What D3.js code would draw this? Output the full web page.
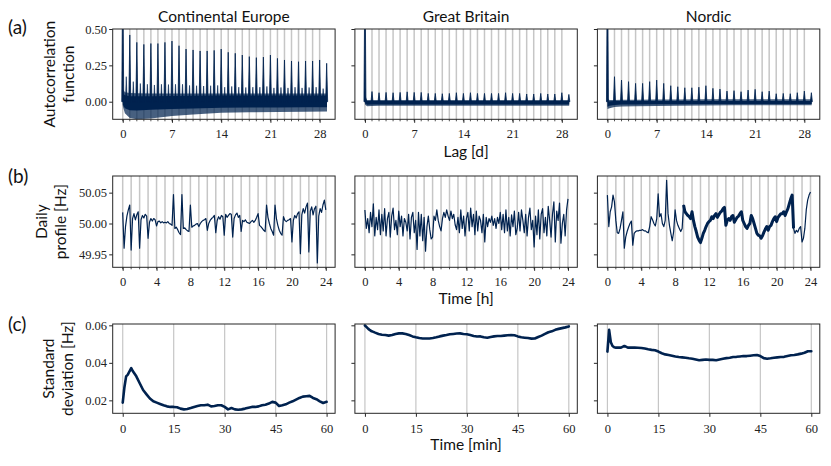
<!DOCTYPE html>
<meta charset="utf-8">
<script src="https://cdn.jsdelivr.net/npm/d3@7"></script>
<style>

body {
  margin: 0;
  background: #fff;
}

svg {
  display: block;
}

.title, .label, .letter {
  font-family: Lato, "Open Sans", sans-serif;
  fill: #111;
}

.tick line {
  stroke: #262626;
}

.frame {
  fill: none;
  stroke: #262626;
  stroke-width: 1;
}

.grid line {
  stroke: #c6c6c6;
  stroke-width: 1.5;
}

</style>
<body>
<div class="chart"></div>
<script>

// ---- text ----
var regions = ["Continental Europe", "Great Britain", "Nordic"];
var rowLetters = ["(a)", "(b)", "(c)"];
var rowYLabels = [["Autocorrelation", "function"], ["Daily", "profile [Hz]"], ["Standard", "deviation [Hz]"]];
var rowXLabels = ["Lag [d]", "Time [h]", "Time [min]"];

// ---- ticks ----
var lagTicks = [0, 7, 14, 21, 28];
var hourTicks = [0, 4, 8, 12, 16, 20, 24];
var minuteTicks = [0, 15, 30, 45, 60];
var acfYTicks = [0, 0.25, 0.5];
var dailyYTicks = [49.95, 50.00, 50.05];
var stdYTicks = [0.02, 0.04, 0.06];

// ---- (a) autocorrelation, lag in days ----
var acfDays = [0, 1, 2, 3, 4, 5, 6, 7, 8, 9, 10, 11, 12, 13, 14, 15, 16, 17, 18, 19, 20, 21, 22, 23, 24, 25, 26, 27, 28, 29];
var lagGrid = [0, 1, 2, 3, 4, 5, 6, 7, 8, 9, 10, 11, 12, 13, 14, 15, 16, 17, 18, 19, 20, 21, 22, 23, 24, 25, 26, 27, 28];

// daily peak of the ACF
var ceAcfPeak = [1.0, 0.459, 0.408, 0.394, 0.40, 0.40, 0.408, 0.417, 0.385, 0.362, 0.356, 0.349, 0.349, 0.353, 0.362,
                 0.34, 0.333, 0.321, 0.31, 0.303, 0.307, 0.321, 0.298, 0.287, 0.28, 0.275, 0.28, 0.28, 0.287, 0.264];
var gbAcfPeak = [1.0, 0.07, 0.062, 0.064, 0.062, 0.064, 0.068, 0.064, 0.064, 0.057, 0.057, 0.055, 0.057, 0.062, 0.057,
                 0.062, 0.057, 0.057, 0.057, 0.057, 0.062, 0.057, 0.057, 0.053, 0.053, 0.057, 0.053, 0.053, 0.062, 0.05];
var noAcfPeak = [1.0, 0.172, 0.149, 0.138, 0.126, 0.126, 0.138, 0.149, 0.126, 0.11, 0.103, 0.096, 0.096, 0.1, 0.11,
                 0.092, 0.087, 0.073, 0.076, 0.069, 0.08, 0.085, 0.069, 0.073, 0.055, 0.057, 0.055, 0.062, 0.073, 0.062];

// half-day peak (Continental Europe), at lag d + 0.5
var ceAcfHalf = [0.172, 0.138, 0.125, 0.12, 0.115, 0.12, 0.118, 0.12, 0.12, 0.112, 0.11, 0.108, 0.11, 0.112, 0.1,
                 0.105, 0.1, 0.098, 0.1, 0.1, 0.105, 0.095, 0.098, 0.095, 0.1, 0.095, 0.098, 0.1, 0.09];

// envelope of the fast oscillation between the peaks
var bandLags = [0, 0.3, 1, 2, 4, 7, 10, 14, 18, 22, 26, 29.05];
var ceOuterHigh = [0.09, 0.065, 0.06, 0.058, 0.057, 0.057, 0.057, 0.057, 0.056, 0.056, 0.056, 0.056];
var ceOuterLow  = [-0.03, -0.08, -0.112, -0.12, -0.115, -0.098, -0.088, -0.076, -0.073, -0.071, -0.069, -0.068];
var ceCoreHigh  = [0.06, 0.045, 0.038, 0.037, 0.038, 0.04, 0.041, 0.042, 0.042, 0.042, 0.042, 0.042];
var ceCoreLow   = [-0.02, -0.045, -0.058, -0.06, -0.056, -0.05, -0.046, -0.042, -0.04, -0.039, -0.038, -0.038];
var gbOuterHigh = [0.05, 0.012, 0.011, 0.011, 0.011, 0.011, 0.011, 0.011, 0.011, 0.011, 0.011, 0.012];
var gbOuterLow  = [-0.02, -0.031, -0.029, -0.028, -0.028, -0.028, -0.027, -0.027, -0.027, -0.027, -0.027, -0.027];
var gbCoreHigh  = [0.03, 0.004, 0.004, 0.004, 0.004, 0.004, 0.004, 0.004, 0.004, 0.004, 0.004, 0.004];
var gbCoreLow   = [-0.01, -0.021, -0.02, -0.02, -0.02, -0.02, -0.019, -0.019, -0.019, -0.019, -0.019, -0.019];
var noOuterHigh = [0.02, 0.012, 0.012, 0.013, 0.014, 0.015, 0.016, 0.017, 0.017, 0.017, 0.017, 0.017];
var noOuterLow  = [-0.05, -0.045, -0.036, -0.033, -0.031, -0.03, -0.028, -0.026, -0.025, -0.024, -0.024, -0.024];
var noCoreHigh  = [0.0, 0.003, 0.004, 0.005, 0.005, 0.005, 0.005, 0.005, 0.005, 0.005, 0.005, 0.005];
var noCoreLow   = [-0.035, -0.028, -0.022, -0.02, -0.019, -0.018, -0.017, -0.016, -0.016, -0.016, -0.016, -0.016];

// ---- (b) daily profile, deviation from 50 Hz in mHz, every 10 minutes ----
var hourGrid = [0, 1, 2, 3, 4, 5, 6, 7, 8, 9, 10, 11, 12, 13, 14, 15, 16, 17, 18, 19, 20, 21, 22, 23, 24];
var ceDailyMHz = [
  18, -40, -5, 12, 22, 30,   -43, 8, 16, 6, 14, 19,     -40, 6, 13, 9, 15, 12,     -24, 2, 8, 4, 8, 6,
  -4, 3, 4, 1, 3, 1,         2, 1, 3, 0, -1, -3,        47, -8, -6, -10, -15, -18, 47, -8, -7, -10, -12, -13,
  30, -6, -4, -3, -1, 0,     -5, 0, 3, 5, 6, 8,         -11, 0, 5, 8, 10, 13,      -15, 5, 11, 7, 13, 11,
  -19, 15, 10, 13, 16, 15,   -22, 8, 14, 17, 10, 13,    -13, 5, 3, 6, 2, 1,        0, 3, 5, 2, 5, 10,
  16, -3, -5, -8, -11, -13,  30, 10, 0, -8, -13, -19,   30, 8, -3, -11, -16, -19,  11, 5, 3, 5, 6, 8,
  -30, 5, 13, 9, 16, 19,     -49, 14, 24, 17, 27, 33,   -46, 20, 27, 14, 24, 28,   -64, 12, 24, 18, 30, 38,
  22];
var gbDailyMHz = [
  22, -8, 8, -15, 18, -5,    32, -20, 10, -10, 22, -18, 15, -12, 24, -20, 8, 18,   -22, 12, 25, -10, 5, -18,
  20, -5, 12, -20, 8, 2,     -12, 15, -25, 10, 18, -15, 5, -42, 18, -20, 15, -28,  10, -45, -5, 12, -10, -25,
  -22, 12, 5, 22, 5, -5,     -12, 8, 18, 10, 22, 12,    5, 20, 8, 15, -2, -10,     10, -15, 22, -8, 12, -20,
  8, 18, -12, 25, -5, 15,    -18, 20, -12, 12, 5, -15,  15, -30, 10, -5, 8, 2,     12, -3, 8, -8, 10, 0,
  18, -10, 15, -15, 22, -12, 10, -20, 14, -5, 20, -18,  -8, 18, -12, 22, 5, -15,   15, -20, 10, 25, -10, 5,
  -38, 12, -18, 22, -25, 15, 24, -15, 10, -20, 28, 5,   -22, 15, 35, -30, 20, 5,   33, -32, 0, 15, -20, 22,
  40];
var noDailyMHz = [
  46, -5, 19, 27, 46, 35,    5, -15, -16, -8, 5, 19,    -40, -22, -13, -6, 0, 4,   -35, -16, -13, -12, -12, -11,
  -11, -10, -12, -12, -14, -15, -5, 11, 6, 0, -4, 8,   48, 11, 16, 0, -5, 5,       70, 16, -3, -16, -28, -13,
  22, 5, -3, -8, -13, -8,    30, 19, 16, 13, 11, 8,     19, 5, -5, -13, -22, -27,  -31, -24, -16, -11, -5, 0,
  3, 5, 11, 8, 13, 16,       10, 14, 18, 20, 24, 26,    -3, 5, 8, 5, 11, 13,       2, 6, 10, 12, 16, 19,
  5, 0, -5, -8, -3, 0,       13, 8, 0, -8, -16, -19,    -20, -24, -20, -14, -9, -5, -11, -5, -3, 3, 8, 11,
  3, 10, 13, 16, 16, 19,     13, 19, 24, 32, 40, 46,    -8, -16, -11, -14, -8, -5, -30, -24, -8, 22, 38, 46,
  51];
// the Nordic trace is a wide noisy band from 9 h to 22 h
var noNoisyFrom = 9, noNoisyTo = 22;

// ---- (c) standard deviation within the hour ----
var stdMinutes = [0, 0.5, 1, 1.5, 2, 2.5, 3, 4, 5, 6, 7, 8, 9, 10, 11, 12, 13, 14, 15, 16, 17, 18, 19, 20,
                  21, 22, 23, 24, 25, 26, 27, 28, 29, 30, 31, 32, 33, 34, 35, 36, 37, 38, 39, 40,
                  41, 42, 43, 44, 45, 46, 47, 48, 49, 50, 51, 52, 53, 54, 55, 56, 57, 58, 59, 60];
var ceStd = [0.0188, 0.027, 0.0328, 0.0337, 0.0355, 0.0372, 0.0355, 0.0328, 0.0291, 0.0255, 0.0232, 0.021, 0.0195, 0.0188,
             0.0181, 0.0174, 0.0168, 0.0165, 0.0165, 0.0163, 0.0156, 0.0152, 0.0154, 0.0159,
             0.0165, 0.017, 0.0174, 0.0174, 0.0177, 0.0168, 0.017, 0.0174, 0.0174, 0.0165,
             0.0152, 0.0159, 0.0152, 0.015, 0.0152, 0.0156, 0.0161, 0.0165, 0.0165, 0.0168,
             0.0174, 0.0177, 0.0183, 0.0192, 0.0188, 0.017, 0.0174, 0.0179, 0.0188, 0.0195,
             0.0204, 0.0213, 0.022, 0.0222, 0.0224, 0.0213, 0.0206, 0.0195, 0.0186, 0.0192];
var gbStd = [0.0599, 0.059, 0.0581, 0.0574, 0.0568, 0.0565, 0.0561, 0.0554, 0.055, 0.0548, 0.0545, 0.0548, 0.0554, 0.0557,
             0.0557, 0.0554, 0.0548, 0.0541, 0.0536, 0.0532, 0.053, 0.053, 0.053, 0.0532,
             0.0536, 0.0541, 0.0545, 0.0548, 0.0552, 0.0554, 0.0556, 0.0557, 0.0554, 0.0552,
             0.0548, 0.0543, 0.054, 0.0541, 0.0536, 0.0534, 0.0538, 0.0541, 0.0543, 0.0543,
             0.0545, 0.0547, 0.0548, 0.0547, 0.0541, 0.0536, 0.0534, 0.0532, 0.0529, 0.053,
             0.0538, 0.0545, 0.0554, 0.0563, 0.0568, 0.0576, 0.0581, 0.0585, 0.0589, 0.0594];
var noStd = [0.046, 0.0576, 0.051, 0.049, 0.0483, 0.0481, 0.0481, 0.0481, 0.049, 0.0481, 0.0481, 0.0481, 0.048, 0.0479,
             0.0476, 0.0472, 0.0469, 0.0467, 0.046, 0.0451, 0.0445, 0.0442, 0.0438, 0.0434,
             0.0431, 0.0429, 0.0427, 0.0424, 0.0422, 0.0418, 0.0414, 0.0416, 0.0418, 0.0416,
             0.0416, 0.0414, 0.0418, 0.0422, 0.0425, 0.0427, 0.0431, 0.0432, 0.0434, 0.0436,
             0.0436, 0.0438, 0.044, 0.0442, 0.0436, 0.0425, 0.0422, 0.0424, 0.0427, 0.0429,
             0.0431, 0.0432, 0.0436, 0.044, 0.0442, 0.0445, 0.0449, 0.0454, 0.0462, 0.0462];

// ---- layout ----
var W = 831, H = 466;
var colLeft = [112.7, 354.9, 597.4], panelW = 222.4;
var rowTop = [29, 176, 324], panelH = [90.3, 91.3, 89.3];
var navy = "#00224f";
var sansSize = "15.5px";

var rows = [
  {xDomain: [-1.43, 30.2], yDomain: [-0.121, 0.5], xTicks: lagTicks, yTicks: acfYTicks, grid: lagGrid, minor: true,
   tickBase: 138, labelX: 55, xLabelY: 157, letterY: 34},
  {xDomain: [-1.18, 25.1], yDomain: [49.929, 50.077], xTicks: hourTicks, yTicks: dailyYTicks, grid: hourGrid, minor: true,
   tickBase: 286, labelX: 47, xLabelY: 304, letterY: 183},
  {xDomain: [-2.95, 62.5], yDomain: [0.0131, 0.0607], xTicks: minuteTicks, yTicks: stdYTicks, grid: minuteTicks, minor: false,
   tickBase: 433, labelX: 54, xLabelY: 450, letterY: 331}
];

var acfSeries = [
  {peak: ceAcfPeak, half: ceAcfHalf, oh: ceOuterHigh, ol: ceOuterLow, ch: ceCoreHigh, cl: ceCoreLow},
  {peak: gbAcfPeak, half: null, oh: gbOuterHigh, ol: gbOuterLow, ch: gbCoreHigh, cl: gbCoreLow},
  {peak: noAcfPeak, half: null, oh: noOuterHigh, ol: noOuterLow, ch: noCoreHigh, cl: noCoreLow}
];
var dailySeries = [ceDailyMHz, gbDailyMHz, noDailyMHz];
var stdSeries = [ceStd, gbStd, noStd];

var svg = d3.select(".chart").append("svg")
    .attr("width", W)
    .attr("height", H);

var fmt = d3.format(".2f");

function styleTicks(sel) {
  sel.selectAll(".tick text")
      .style("font-family", "'Liberation Serif', 'Times New Roman', serif")
      .style("font-size", "12.5px")
      .style("fill", "#222");
}

rows.forEach(function(row, r) {
  var h = panelH[r];
  var x = d3.scaleLinear().domain(row.xDomain).range([0, panelW]);
  var y = d3.scaleLinear().domain(row.yDomain).range([h, 0]);

  // panel letter and y label
  svg.append("text")
      .attr("class", "letter")
      .attr("x", 8)
      .attr("y", row.letterY)
      .style("font-size", "19px")
      .text(rowLetters[r]);

  var yl = svg.append("text")
      .attr("class", "label")
      .attr("text-anchor", "middle")
      .style("font-size", sansSize)
      .attr("transform", "translate(" + row.labelX + "," + (rowTop[r] + h / 2) + ") rotate(-90)");
  rowYLabels[r].forEach(function(s, i) {
    yl.append("tspan").attr("x", 0).attr("dy", i ? 18.5 : 0).text(s);
  });

  // x label under the middle column
  svg.append("text")
      .attr("class", "label")
      .attr("text-anchor", "middle")
      .attr("x", colLeft[1] + panelW / 2)
      .attr("y", row.xLabelY)
      .style("font-size", sansSize)
      .text(rowXLabels[r]);

  for (var c = 0; c < 3; c++) {
    var g = svg.append("g").attr("transform", "translate(" + colLeft[c] + "," + rowTop[r] + ")");

    if (r === 0) {
      g.append("text")
          .attr("class", "title")
          .attr("text-anchor", "middle")
          .attr("x", panelW / 2)
          .attr("y", -7.5)
          .style("font-size", sansSize)
          .text(regions[c]);
    }

    var clipId = "clip" + r + c;
    g.append("clipPath").attr("id", clipId)
      .append("rect").attr("width", panelW).attr("height", h);

    // vertical grid
    g.append("g")
        .attr("class", "grid")
      .selectAll("line")
      .data(row.grid)
      .enter().append("line")
        .attr("x1", function(d) { return x(d); })
        .attr("x2", function(d) { return x(d); })
        .attr("y1", 0)
        .attr("y2", h)
        .style("stroke-width", r === 2 ? 1.2 : 1.5);

    var plot = g.append("g").attr("clip-path", "url(#" + clipId + ")");

    if (r === 0) {
      var s = acfSeries[c];
      var band = function(hi, lo) {
        return d3.area()
          .x(function(d, i) { return x(bandLags[i]); })
          .y0(function(d, i) { return y(lo[i]); })
          .y1(function(d, i) { return y(hi[i]); })(hi);
      };
      plot.append("path").attr("d", band(s.oh, s.ol)).attr("fill", navy).attr("fill-opacity", 0.72);
      plot.append("path").attr("d", band(s.ch, s.cl)).attr("fill", navy);

      var spike = function(d, v, w) {
        return "M" + x(d - w) + "," + y(0) + "L" + x(d) + "," + y(v) + "L" + x(d + w) + "," + y(0) + "Z";
      };
      if (s.half) {
        plot.selectAll(".half")
          .data(s.half)
          .enter().append("path")
            .attr("class", "half")
            .attr("d", function(v, i) { return spike(acfDays[i] + 0.5, v, 0.12); })
            .attr("fill", navy)
            .attr("stroke", navy)
            .attr("stroke-width", 0.6);
      }
      plot.selectAll(".peak")
        .data(s.peak)
        .enter().append("path")
          .attr("class", "peak")
          .attr("d", function(v, i) { return spike(acfDays[i], v, 0.14); })
          .attr("fill", navy)
          .attr("stroke", navy)
          .attr("stroke-width", 0.8);
    } else if (r === 1) {
      var line = d3.line()
        .x(function(d, i) { return x(i / 6); })
        .y(function(d) { return y(50 + d / 1000); });
      var trace = dailySeries[c];
      plot.append("path")
          .datum(trace)
          .attr("d", line)
          .attr("fill", "none")
          .attr("stroke", navy)
          .attr("stroke-width", 1.2)
          .attr("stroke-linejoin", "round");
      if (c === 2) {
        // thicker band where the Nordic trace is noisy
        var noisyLine = d3.line()
          .x(function(d, i) { return x(noNoisyFrom + i / 6); })
          .y(function(d) { return y(50 + d / 1000); });
        plot.append("path")
            .datum(trace.slice(noNoisyFrom * 6, noNoisyTo * 6 + 1))
            .attr("d", noisyLine)
            .attr("fill", "none")
            .attr("stroke", navy)
            .attr("stroke-width", 3)
            .attr("stroke-linejoin", "round");
      }
    } else {
      var sline = d3.line()
        .x(function(d, i) { return x(stdMinutes[i]); })
        .y(function(d) { return y(d); });
      plot.append("path")
          .datum(stdSeries[c])
          .attr("d", sline)
          .attr("fill", "none")
          .attr("stroke", navy)
          .attr("stroke-width", 2.6)
          .attr("stroke-linejoin", "round")
          .attr("stroke-linecap", "round");
    }

    // minor ticks on the grid positions
    if (row.minor) {
      g.append("g")
        .selectAll("line")
        .data(row.grid)
        .enter().append("line")
          .attr("x1", function(d) { return x(d); })
          .attr("x2", function(d) { return x(d); })
          .attr("y1", h)
          .attr("y2", h + 2)
          .attr("stroke", "#262626")
          .attr("stroke-width", 0.8);
    }

    // axes
    var xa = g.append("g")
        .attr("transform", "translate(0," + h + ")")
        .call(d3.axisBottom(x).tickValues(row.xTicks).tickSize(3.5).tickFormat(d3.format("d")));
    xa.select(".domain").remove();
    xa.selectAll(".tick text").attr("dy", 0).attr("y", row.tickBase - rowTop[r] - h);
    styleTicks(xa);

    var ya = g.append("g")
        .call(d3.axisLeft(y).tickValues(row.yTicks).tickSize(3.5).tickPadding(2.2)
          .tickFormat(c === 0 ? fmt : function() { return ""; }));
    ya.select(".domain").remove();
    styleTicks(ya);

    g.append("rect")
        .attr("class", "frame")
        .attr("width", panelW)
        .attr("height", h);
  }
});

</script>
</body>
</html>
